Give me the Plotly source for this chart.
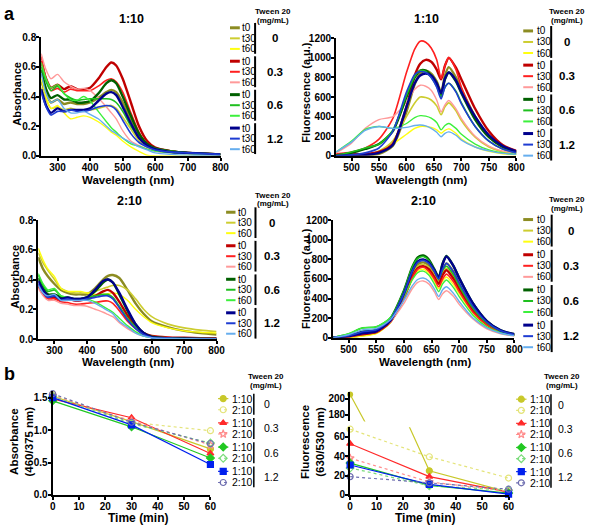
import plotly.graph_objects as go

# ---------------- data ----------------
wl_abs = [250, 265, 280, 300, 320, 340, 360, 380, 400, 425, 450, 465, 480, 500, 525, 550, 575, 600, 650, 700, 750, 800]
wl_fl = [472, 500, 525, 550, 575, 600, 615, 625, 635, 645, 655, 663, 670, 677, 690, 700, 725, 750, 775, 800]
tween_levels = ['0', '0.3', '0.6', '1.2']
time_labels = ['t0', 't30', 't60']
ratio_labels = ['1:10', '2:10']
time_min = [0, 30, 60]

# absorbance spectra, 1:10
abs110_0_t0 = [0.50, 0.42, 0.36, 0.38, 0.35, 0.36, 0.35, 0.35, 0.36, 0.39, 0.43, 0.445, 0.43, 0.36, 0.25, 0.14, 0.08, 0.05, 0.03, 0.02, 0.015, 0.01]
abs110_0_t30 = [0.46, 0.38, 0.32, 0.33, 0.31, 0.32, 0.31, 0.31, 0.31, 0.32, 0.335, 0.34, 0.32, 0.26, 0.18, 0.10, 0.06, 0.04, 0.025, 0.015, 0.01, 0.01]
abs110_0_t60 = [0.52, 0.40, 0.32, 0.34, 0.29, 0.25, 0.26, 0.27, 0.26, 0.23, 0.19, 0.16, 0.14, 0.10, 0.06, 0.03, 0.005, 0.0, 0.0, 0.0, 0.0, 0.0]
abs110_03_t0 = [0.64, 0.52, 0.46, 0.48, 0.45, 0.47, 0.45, 0.45, 0.46, 0.52, 0.60, 0.63, 0.61, 0.52, 0.36, 0.20, 0.10, 0.055, 0.03, 0.02, 0.015, 0.01]
abs110_03_t30 = [0.67, 0.52, 0.44, 0.455, 0.43, 0.45, 0.44, 0.44, 0.44, 0.47, 0.51, 0.52, 0.50, 0.43, 0.29, 0.16, 0.08, 0.05, 0.03, 0.02, 0.015, 0.01]
abs110_03_t60 = [0.69, 0.58, 0.52, 0.55, 0.50, 0.47, 0.45, 0.455, 0.44, 0.39, 0.33, 0.29, 0.25, 0.17, 0.10, 0.07, 0.045, 0.03, 0.02, 0.015, 0.01, 0.01]
abs110_06_t0 = [0.58, 0.45, 0.39, 0.41, 0.38, 0.38, 0.36, 0.36, 0.37, 0.42, 0.49, 0.51, 0.49, 0.40, 0.27, 0.15, 0.08, 0.05, 0.03, 0.02, 0.015, 0.01]
abs110_06_t30 = [0.60, 0.50, 0.44, 0.47, 0.42, 0.39, 0.375, 0.38, 0.385, 0.385, 0.385, 0.38, 0.36, 0.30, 0.20, 0.12, 0.07, 0.05, 0.03, 0.02, 0.015, 0.01]
abs110_06_t60 = [0.63, 0.52, 0.46, 0.48, 0.42, 0.38, 0.375, 0.40, 0.37, 0.30, 0.23, 0.19, 0.16, 0.12, 0.08, 0.066, 0.045, 0.033, 0.02, 0.015, 0.01, 0.01]
abs110_12_t0 = [0.45, 0.34, 0.29, 0.32, 0.30, 0.31, 0.31, 0.31, 0.32, 0.37, 0.42, 0.43, 0.41, 0.33, 0.22, 0.12, 0.07, 0.045, 0.025, 0.02, 0.015, 0.01]
abs110_12_t30 = [0.43, 0.33, 0.275, 0.30, 0.30, 0.31, 0.30, 0.30, 0.31, 0.33, 0.34, 0.335, 0.31, 0.24, 0.15, 0.09, 0.06, 0.04, 0.025, 0.02, 0.015, 0.01]
abs110_12_t60 = [0.56, 0.42, 0.36, 0.38, 0.32, 0.29, 0.29, 0.30, 0.28, 0.25, 0.20, 0.17, 0.15, 0.12, 0.09, 0.06, 0.04, 0.02, 0.01, 0.005, 0.003, 0.0]

# fluorescence spectra, 1:10
fl110_0_t0 = [0, 0, 5, 20, 100, 450, 730, 840, 870, 840, 760, 650, 820, 905, 800, 680, 400, 200, 90, 40]
fl110_0_t30 = [0, 0, 10, 50, 150, 400, 540, 600, 595, 570, 510, 420, 500, 540, 460, 360, 190, 90, 40, 20]
fl110_0_t60 = [0, 0, 10, 40, 120, 220, 280, 300, 300, 290, 265, 230, 260, 275, 230, 170, 90, 45, 20, 10]
fl110_03_t0 = [10, 15, 20, 40, 120, 500, 820, 940, 980, 960, 880, 780, 920, 1000, 900, 780, 480, 250, 110, 50]
fl110_03_t30 = [20, 40, 80, 170, 380, 850, 1090, 1170, 1160, 1100, 980, 790, 920, 1005, 880, 700, 400, 200, 90, 40]
fl110_03_t60 = [30, 130, 280, 370, 400, 550, 680, 720, 710, 670, 570, 450, 520, 565, 480, 380, 200, 100, 50, 25]
fl110_06_t0 = [5, 30, 70, 120, 250, 600, 800, 870, 870, 820, 740, 620, 780, 850, 760, 640, 370, 190, 90, 40]
fl110_06_t30 = [5, 40, 80, 120, 260, 620, 810, 870, 860, 800, 710, 600, 700, 740, 660, 540, 300, 150, 70, 30]
fl110_06_t60 = [40, 150, 270, 300, 280, 330, 390, 410, 405, 385, 340, 265, 310, 330, 280, 220, 120, 60, 30, 15]
fl110_12_t0 = [0, 5, 10, 30, 110, 500, 740, 820, 840, 820, 740, 640, 790, 850, 770, 650, 400, 210, 100, 45]
fl110_12_t30 = [0, 10, 30, 80, 250, 650, 830, 860, 850, 800, 700, 580, 700, 740, 650, 530, 300, 150, 70, 30]
fl110_12_t60 = [40, 140, 260, 300, 280, 290, 310, 315, 305, 280, 240, 195, 230, 245, 210, 160, 90, 50, 25, 15]

# absorbance spectra, 2:10
abs210_0_t0 = [0.55, 0.47, 0.42, 0.37, 0.33, 0.31, 0.30, 0.30, 0.30, 0.34, 0.40, 0.425, 0.43, 0.41, 0.33, 0.24, 0.17, 0.12, 0.08, 0.055, 0.04, 0.03]
abs210_0_t30 = [0.58, 0.51, 0.46, 0.40, 0.34, 0.32, 0.31, 0.31, 0.31, 0.32, 0.34, 0.35, 0.36, 0.36, 0.33, 0.27, 0.20, 0.15, 0.10, 0.075, 0.06, 0.05]
abs210_0_t60 = [0.61, 0.53, 0.47, 0.42, 0.34, 0.32, 0.32, 0.32, 0.31, 0.30, 0.30, 0.305, 0.31, 0.30, 0.26, 0.20, 0.15, 0.11, 0.075, 0.055, 0.045, 0.04]
abs210_03_t0 = [0.36, 0.31, 0.28, 0.28, 0.26, 0.27, 0.26, 0.26, 0.27, 0.29, 0.32, 0.33, 0.31, 0.25, 0.16, 0.09, 0.04, 0.02, 0.01, 0.008, 0.006, 0.005]
abs210_03_t30 = [0.35, 0.30, 0.27, 0.27, 0.25, 0.245, 0.235, 0.235, 0.24, 0.245, 0.255, 0.255, 0.24, 0.19, 0.12, 0.07, 0.03, 0.02, 0.01, 0.008, 0.006, 0.005]
abs210_03_t60 = [0.34, 0.29, 0.26, 0.26, 0.24, 0.235, 0.225, 0.225, 0.22, 0.20, 0.18, 0.165, 0.15, 0.11, 0.07, 0.04, 0.02, 0.01, 0.005, 0.004, 0.003, 0.003]
abs210_06_t0 = [0.41, 0.34, 0.30, 0.30, 0.28, 0.28, 0.27, 0.27, 0.28, 0.32, 0.38, 0.40, 0.38, 0.30, 0.19, 0.10, 0.04, 0.015, 0.005, 0.003, 0.002, 0.0]
abs210_06_t30 = [0.43, 0.36, 0.32, 0.33, 0.29, 0.28, 0.27, 0.27, 0.28, 0.29, 0.30, 0.30, 0.28, 0.22, 0.14, 0.08, 0.03, 0.012, 0.004, 0.002, 0.001, 0.0]
abs210_06_t60 = [0.44, 0.37, 0.33, 0.34, 0.29, 0.28, 0.27, 0.27, 0.27, 0.25, 0.22, 0.20, 0.18, 0.14, 0.09, 0.05, 0.02, 0.01, 0.004, 0.002, 0.001, 0.0]
abs210_12_t0 = [0.39, 0.33, 0.29, 0.29, 0.27, 0.28, 0.27, 0.27, 0.28, 0.33, 0.39, 0.40, 0.38, 0.31, 0.20, 0.10, 0.04, 0.012, 0.004, 0.002, 0.001, 0.0]
abs210_12_t30 = [0.37, 0.31, 0.28, 0.29, 0.26, 0.27, 0.26, 0.26, 0.27, 0.28, 0.29, 0.29, 0.27, 0.21, 0.13, 0.07, 0.03, 0.01, 0.004, 0.002, 0.001, 0.0]
abs210_12_t60 = [0.36, 0.31, 0.29, 0.30, 0.26, 0.26, 0.26, 0.26, 0.26, 0.24, 0.21, 0.19, 0.17, 0.12, 0.08, 0.04, 0.02, 0.008, 0.003, 0.002, 0.001, 0.0]

# fluorescence spectra, 2:10
fl210_0_t0 = [0, 5, 25, 50, 160, 430, 660, 750, 770, 740, 660, 580, 690, 760, 670, 550, 310, 150, 65, 30]
fl210_0_t30 = [0, 5, 25, 50, 160, 420, 640, 730, 750, 720, 640, 570, 660, 710, 630, 520, 290, 140, 60, 28]
fl210_0_t60 = [0, 0, 15, 40, 150, 390, 590, 680, 700, 660, 580, 500, 580, 620, 540, 450, 250, 120, 50, 22]
fl210_03_t0 = [0, 10, 35, 55, 160, 410, 620, 710, 730, 700, 620, 550, 640, 690, 600, 500, 280, 140, 60, 28]
fl210_03_t30 = [0, 10, 40, 60, 160, 400, 610, 700, 720, 680, 600, 520, 600, 650, 570, 470, 260, 130, 55, 25]
fl210_03_t60 = [0, 20, 60, 75, 160, 350, 500, 565, 580, 550, 470, 390, 450, 480, 420, 340, 190, 90, 40, 18]
fl210_06_t0 = [0, 20, 60, 80, 190, 480, 720, 820, 840, 800, 700, 620, 760, 835, 730, 610, 350, 170, 75, 35]
fl210_06_t30 = [0, 40, 100, 110, 200, 480, 720, 810, 830, 790, 690, 600, 690, 730, 640, 530, 300, 150, 65, 30]
fl210_06_t60 = [0, 40, 100, 110, 200, 420, 590, 665, 680, 640, 550, 470, 550, 590, 510, 420, 230, 110, 50, 22]
fl210_12_t0 = [0, 15, 45, 65, 170, 450, 680, 780, 800, 770, 690, 610, 750, 830, 730, 610, 350, 170, 75, 35]
fl210_12_t30 = [0, 20, 60, 80, 180, 450, 680, 770, 790, 760, 680, 600, 700, 760, 670, 560, 320, 160, 70, 30]
fl210_12_t60 = [0, 30, 80, 95, 180, 380, 530, 595, 610, 580, 500, 420, 490, 520, 450, 370, 200, 100, 45, 20]

# b: absorbance ratio 460/375 nm vs time
absr_0_110 = [1.52, 1.13, 0.71]
absr_0_210 = [1.55, 1.12, 0.99]
absr_03_110 = [1.48, 1.19, 0.64]
absr_03_210 = [1.53, 1.14, 0.77]
absr_06_110 = [1.45, 1.05, 0.57]
absr_06_210 = [1.52, 1.10, 0.80]
absr_12_110 = [1.50, 1.08, 0.47]
absr_12_210 = [1.56, 1.12, 0.79]

# b: fluorescence ratio 630/530 nm vs time
flr_0_110 = [205, 25, 3]
flr_0_210 = [68, 39.5, 17.5]
flr_03_110 = [53, 19, 3]
flr_03_210 = [38, 13.5, 4]
flr_06_110 = [33, 10, 2]
flr_06_210 = [28, 9.5, 5]
flr_12_110 = [31, 11, 1]
flr_12_210 = [19, 12.5, 6]

abs110 = {'0': [abs110_0_t0, abs110_0_t30, abs110_0_t60], '0.3': [abs110_03_t0, abs110_03_t30, abs110_03_t60],
          '0.6': [abs110_06_t0, abs110_06_t30, abs110_06_t60], '1.2': [abs110_12_t0, abs110_12_t30, abs110_12_t60]}
fl110 = {'0': [fl110_0_t0, fl110_0_t30, fl110_0_t60], '0.3': [fl110_03_t0, fl110_03_t30, fl110_03_t60],
         '0.6': [fl110_06_t0, fl110_06_t30, fl110_06_t60], '1.2': [fl110_12_t0, fl110_12_t30, fl110_12_t60]}
abs210 = {'0': [abs210_0_t0, abs210_0_t30, abs210_0_t60], '0.3': [abs210_03_t0, abs210_03_t30, abs210_03_t60],
          '0.6': [abs210_06_t0, abs210_06_t30, abs210_06_t60], '1.2': [abs210_12_t0, abs210_12_t30, abs210_12_t60]}
fl210 = {'0': [fl210_0_t0, fl210_0_t30, fl210_0_t60], '0.3': [fl210_03_t0, fl210_03_t30, fl210_03_t60],
         '0.6': [fl210_06_t0, fl210_06_t30, fl210_06_t60], '1.2': [fl210_12_t0, fl210_12_t30, fl210_12_t60]}
absr = {'0': [absr_0_110, absr_0_210], '0.3': [absr_03_110, absr_03_210],
        '0.6': [absr_06_110, absr_06_210], '1.2': [absr_12_110, absr_12_210]}
flr = {'0': [flr_0_110, flr_0_210], '0.3': [flr_03_110, flr_03_210],
       '0.6': [flr_06_110, flr_06_210], '1.2': [flr_12_110, flr_12_210]}

# ---------------- styles ----------------
FONT = 'Liberation Sans, Arial, sans-serif'
W, H = 593, 531
spec_colors = {'0': ['#8C8C22', '#CDCD30', '#FFFF10'],
               '0.3': ['#C00000', '#FF2020', '#FF9A9A'],
               '0.6': ['#006000', '#1FBF1F', '#3CF03C'],
               '1.2': ['#00008C', '#1E3CD2', '#66AEEE']}
spec_widths = [2.4, 1.6, 1.4]
ratio_colors = {'0': ['#C8C82A', '#E4E47A'], '0.3': ['#FF2A2A', '#FF8C8C'],
                '0.6': ['#22C822', '#7ADC7A'], '1.2': ['#0020EE', '#6E6EB0']}
ratio_symbols = {'0': ['circle', 'circle-open'], '0.3': ['triangle-up', 'star-open'],
                 '0.6': ['diamond', 'diamond-open'], '1.2': ['square', 'circle-open']}
ratio_dash = ['solid', 'dot']


def X(p):
    return p / W


def Y(p):
    return 1 - p / H


fig = go.Figure()


def note(text, x, y, size=10, bold=False, xanchor='center', angle=0):
    fig.add_annotation(text=text, x=X(x), y=Y(y), xref='paper', yref='paper', showarrow=False,
                       xanchor=xanchor, yanchor='middle', textangle=angle, borderpad=0,
                       font=dict(family=FONT, size=size, color='black', weight='bold' if bold else 'normal'))


def seg(x0, x1, y0, y1, color='black', width=2, dash='solid'):
    fig.add_shape(type='line', xref='paper', yref='paper', x0=X(x0), x1=X(x1), y0=Y(y0), y1=Y(y1),
                  line=dict(color=color, width=width, dash=dash))


def add_spectra(vals, wl, xa, ya):
    for g in tween_levels:
        for ti in range(3):
            fig.add_trace(go.Scatter(x=wl, y=vals[g][ti], mode='lines', xaxis=xa, yaxis=ya,
                                     line=dict(color=spec_colors[g][ti], width=spec_widths[ti],
                                               shape='spline', smoothing=0.7),
                                     showlegend=False, hoverinfo='skip'))


add_spectra(abs110, wl_abs, 'x', 'y')
add_spectra(fl110, wl_fl, 'x2', 'y2')
add_spectra(abs210, wl_abs, 'x3', 'y3')
add_spectra(fl210, wl_fl, 'x4', 'y4')


def add_ratio(vals, xa, ya, big=None):
    for g in tween_levels:
        for ri in range(2):
            over = max(vals[g][ri]) > 70 if big else False
            fig.add_trace(go.Scatter(x=time_min, y=vals[g][ri], mode='lines+markers', xaxis=xa, yaxis=ya,
                                     line=dict(color=ratio_colors[g][ri], width=1.2, dash=ratio_dash[ri]),
                                     marker=dict(symbol=ratio_symbols[g][ri], size=6, color=ratio_colors[g][ri],
                                                 line=dict(width=1.2, color=ratio_colors[g][ri])),
                                     cliponaxis=over, showlegend=False, hoverinfo='skip'))
            if over:
                fig.add_trace(go.Scatter(x=time_min, y=vals[g][ri], mode='lines+markers', xaxis=xa, yaxis=big,
                                         line=dict(color=ratio_colors[g][ri], width=1.2, dash=ratio_dash[ri]),
                                         marker=dict(symbol=ratio_symbols[g][ri], size=6, color=ratio_colors[g][ri]),
                                         cliponaxis=False, showlegend=False, hoverinfo='skip'))


add_ratio(absr, 'x5', 'y5')
add_ratio(flr, 'x6', 'y6', big='y7')


def ax(domain, rng, tickvals, fmt=None, anchor=None):
    d = dict(domain=domain, range=rng, tickvals=tickvals, showline=True, linewidth=2, linecolor='black',
             ticks='outside', ticklen=3, tickwidth=1.5, tickcolor='black', showgrid=False, zeroline=False,
             ticklabelstandoff=-2,
             tickfont=dict(family=FONT, size=10, color='black', weight='bold'), fixedrange=True, anchor=anchor)
    if fmt:
        d['tickformat'] = fmt
    return d


fig.update_layout(
    width=W, height=H, margin=dict(l=0, r=0, t=0, b=0), plot_bgcolor='rgba(0,0,0,0)', paper_bgcolor='white',
    showlegend=False,
    xaxis=ax([X(39), X(222)], [250, 800], [300, 400, 500, 600, 700, 800], anchor='y'),
    yaxis=ax([Y(153.3), Y(32)], [0, 0.8], [0, 0.2, 0.4, 0.6, 0.8], '.1f', anchor='x'),
    xaxis2=ax([X(340), X(524)], [472, 800], [500, 550, 600, 650, 700, 750, 800], anchor='y2'),
    yaxis2=ax([Y(153.3), Y(33)], [0, 1200], [0, 200, 400, 600, 800, 1000, 1200], anchor='x2'),
    xaxis3=ax([X(36), X(218)], [250, 800], [300, 400, 500, 600, 700, 800], anchor='y3'),
    yaxis3=ax([Y(340.7), Y(219)], [0, 0.8], [0, 0.2, 0.4, 0.6, 0.8], '.1f', anchor='x3'),
    xaxis4=ax([X(337), X(522)], [472, 800], [500, 550, 600, 650, 700, 750, 800], anchor='y4'),
    yaxis4=ax([Y(339.3), Y(219.3)], [0, 1200], [0, 200, 400, 600, 800, 1000, 1200], anchor='x4'),
    xaxis5=ax([X(50.7), X(211.7)], [0, 60], [0, 10, 20, 30, 40, 50, 60], anchor='y5'),
    yaxis5=ax([Y(500.3), Y(394)], [0, 1.6], [0, 0.5, 1.0, 1.5], '.1f', anchor='x5'),
    xaxis6=ax([X(354.3), X(516)], [0, 60], [0, 10, 20, 30, 40, 50, 60], anchor='y6'),
    yaxis6=ax([Y(500.3), Y(431)], [0, 70], [0, 20, 40, 60], anchor='x6'),
    yaxis7=ax([Y(425), Y(395)], [172, 208], [180, 200], anchor='x6'),
    xaxis8=dict(domain=[0, 1], range=[0, W], visible=False, fixedrange=True, anchor='y8'),
    yaxis8=dict(domain=[0, 1], range=[H, 0], visible=False, fixedrange=True, anchor='x8'),
)

# ---------------- titles and labels ----------------
note('a', 7, 8, size=18, bold=True)
note('b', 7, 377, size=18, bold=True)
note('1:10', 130.7, 13.5, size=12.5, bold=True)
note('1:10', 432.7, 13.5, size=12.5, bold=True)
note('2:10', 129, 199.3, size=12.5, bold=True)
note('2:10', 429.3, 199.3, size=12.5, bold=True)

note('Absorbance', 14, 90, size=11, bold=True, angle=-90)
note('Fluorescence (a.u.)', 309, 88, size=11, bold=True, angle=-90)
note('Absorbance', 12, 277, size=11, bold=True, angle=-90)
note('Fluorescence (a.u.)', 308.5, 279, size=11, bold=True, angle=-90)
note('Absorbance<br>(460/375 nm)', 19, 446, size=11.5, bold=True, angle=-90)
note('Fluorescence<br>(630/530 nm)', 316.5, 446, size=11.5, bold=True, angle=-90)

note('Wavelength (nm)', 128, 178, size=11.5, bold=True)
note('Wavelength (nm)', 427, 178, size=11.5, bold=True)
note('Wavelength (nm)', 128, 364, size=11.5, bold=True)
note('Wavelength (nm)', 430.5, 364, size=11.5, bold=True)
note('Time (min)', 138, 523.5, size=12, bold=True)
note('Time (min)', 431, 523.5, size=12, bold=True)


# ---------------- custom legends ----------------
def spec_legend(xl0, xl1, xt, xbar, xg, y0, row, grp, hx, hy):
    note('Tween 20', hx, hy, size=8, bold=True)
    note('(mg/mL)', hx, hy + 9, size=8, bold=True)
    for gi, g in enumerate(tween_levels):
        ys = [y0 + gi * grp + ti * row for ti in range(3)]
        for ti, t in enumerate(time_labels):
            seg(xl0, xl1, ys[ti], ys[ti], color=spec_colors[g][ti], width=3 if ti == 0 else 2)
            note(t, xt, ys[ti], size=10, xanchor='left')
        seg(xbar, xbar, ys[0] - 5, ys[2] + 5, width=2)
        note(g, xg, ys[1], size=11.5, bold=True)


spec_legend(231.7, 241.7, 242.5, 257.3, 278, 22.3, 10.8, 34.2, 276, 6)
spec_legend(531, 541, 544.5, 559.5, 576, 25.5, 11.3, 35, 576, 6)
spec_legend(227.7, 237.3, 238.5, 257.7, 275, 211, 10.7, 34.3, 276, 193.5)
spec_legend(531, 541, 544.5, 560, 580, 218.5, 11.3, 36, 576, 198)


def ratio_legend(xl0, xl1, xt, xbar, xg, y0, row, grp, hx, hy):
    note('Tween 20', hx, hy, size=8, bold=True)
    note('(mg/mL)', hx, hy + 9, size=8, bold=True)
    for gi, g in enumerate(tween_levels):
        ys = [y0 + gi * grp + ri * row for ri in range(2)]
        for ri, r in enumerate(ratio_labels):
            seg(xl0, xl1, ys[ri], ys[ri], color=ratio_colors[g][ri], width=1.2, dash=ratio_dash[ri])
            fig.add_trace(go.Scatter(x=[(xl0 + xl1) / 2], y=[ys[ri]], mode='markers', xaxis='x8', yaxis='y8',
                                     marker=dict(symbol=ratio_symbols[g][ri], size=6, color=ratio_colors[g][ri],
                                                 line=dict(width=1.2, color=ratio_colors[g][ri])),
                                     showlegend=False, hoverinfo='skip', cliponaxis=False))
            note(r, xt, ys[ri], size=10.5, xanchor='left')
        seg(xbar, xbar, ys[0] - 5, ys[1] + 5, width=1.5)
        note(g, xg, (ys[0] + ys[1]) / 2, size=10.5, xanchor='left')


ratio_legend(219.5, 230, 232.5, 256, 265.5, 401.7, 11.4, 24.8, 268.5, 379)
ratio_legend(523.7, 534.3, 536.5, 559.3, 565.5, 402.3, 11.4, 24.7, 571, 379.3)

fig.write_html('out.html', config={'displayModeBar': False},
               post_script="document.body.style.margin='0';document.body.style.padding='0';document.body.style.overflow='hidden';")
